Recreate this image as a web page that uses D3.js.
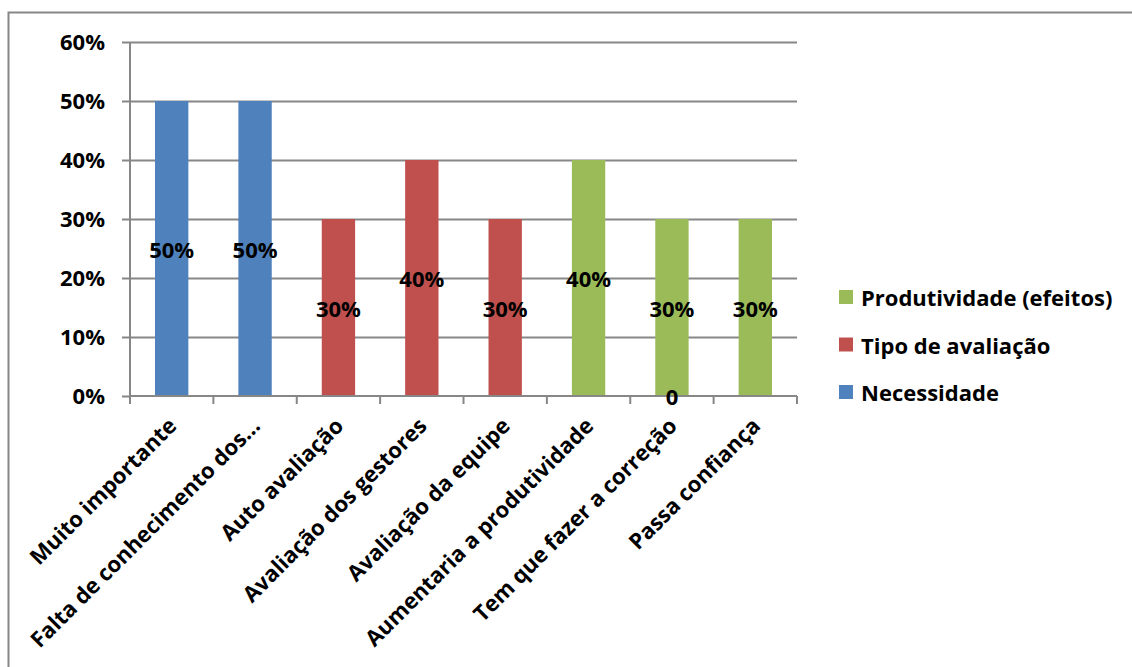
<!DOCTYPE html>
<html>
<head>
<meta charset="utf-8">
<script src="https://cdn.jsdelivr.net/npm/d3@7"></script>
<style>
  body { margin: 0; background: #fff; }
  svg text { font-family: "Open Sans", Lato, sans-serif; font-weight: bold; }
</style>
</head>
<body>
<script>
// categories and series (null = no value in that series)
const categories = ['Muito importante', 'Falta de conhecimento dos...', 'Auto avaliação',
  'Avaliação dos gestores', 'Avaliação da equipe', 'Aumentaria a produtividade',
  'Tem que fazer a correção', 'Passa confiança'];
const necessidade   = [0.5, 0.5, null, null, null, null, null, null];
const tipoAvaliacao = [null, null, 0.3, 0.4, 0.3, null, 0, null];
const produtividade = [null, null, null, null, null, 0.4, 0.3, 0.3];
const seriesNames = ['Necessidade', 'Tipo de avaliação', 'Produtividade (efeitos)'];
const colors = ['#4F81BD', '#C0504D', '#9BBB59'];
const yTicks = [0, 0.1, 0.2, 0.3, 0.4, 0.5, 0.6];

const width = 1132, height = 667;
const margin = {top: 42, left: 130, right: 335, bottom: 271};
const plotW = width - margin.left - margin.right;
const plotH = height - margin.top - margin.bottom;
const fs = 22, fsCat = 22;

const rows = categories.map((c, i) => ({cat: c, s0: necessidade[i], s1: tipoAvaliacao[i], s2: produtividade[i]}));
const stacked = d3.stack().keys(['s0', 's1', 's2']).value((d, k) => d[k] || 0)(rows);

const svg = d3.select('body').append('svg')
  .attr('width', width).attr('height', height);

// outer frame
svg.append('rect')
  .attr('x', 8.5).attr('y', 12.5)
  .attr('width', width + 10).attr('height', height + 10)
  .attr('fill', 'none').attr('stroke', '#878787').attr('stroke-width', 2);

const x = d3.scaleBand().domain(categories).range([0, plotW]).paddingInner(0.6).paddingOuter(0.3);
const xb = d3.scaleLinear().domain([0, categories.length]).range([0, plotW]);
const y = d3.scaleLinear().domain([0, 0.6]).range([plotH, 0]);

const g = svg.append('g').attr('transform', `translate(${margin.left},${margin.top})`);

// gridlines
g.append('g').selectAll('line').data(yTicks.slice(1)).join('line')
  .attr('x1', 0).attr('x2', plotW)
  .attr('y1', d => Math.round(y(d)) + 0.5).attr('y2', d => Math.round(y(d)) + 0.5)
  .attr('stroke', '#878787').attr('stroke-width', 2);

// bars
g.append('g').selectAll('g').data(stacked).join('g')
  .attr('fill', (d, i) => colors[i])
  .selectAll('rect').data(d => d.filter(p => p.data['s' + stacked.indexOf(d)] > 0)).join('rect')
  .attr('x', d => x(d.data.cat))
  .attr('width', x.bandwidth())
  .attr('y', d => y(d[1]))
  .attr('height', d => y(d[0]) - y(d[1]));

// y axis
const yAxis = d3.axisLeft(y).tickValues(yTicks).tickFormat(d3.format('.0%')).tickSize(8).tickPadding(17);
g.append('g').call(yAxis)
  .call(a => a.selectAll('line, path').attr('stroke', '#878787').attr('stroke-width', 2))
  .call(a => a.select('.domain').attr('d', `M0,${plotH}V0`))
  .call(a => a.selectAll('text').attr('font-size', fs).attr('fill', '#000').attr('font-family', null));

// x axis baseline and ticks at band boundaries
g.append('line').attr('x1', 0).attr('x2', plotW).attr('y1', plotH).attr('y2', plotH)
  .attr('stroke', '#878787').attr('stroke-width', 2);
g.append('g').selectAll('line').data(d3.range(categories.length + 1)).join('line')
  .attr('x1', d => xb(d)).attr('x2', d => xb(d))
  .attr('y1', plotH).attr('y2', plotH + 8)
  .attr('stroke', '#878787').attr('stroke-width', 2);

// category labels
g.append('g').selectAll('text').data(categories).join('text')
  .attr('transform', d => `translate(${x(d) + x.bandwidth() / 2},${plotH + 25}) rotate(-45)`)
  .attr('text-anchor', 'end')
  .attr('dominant-baseline', 'central')
  .attr('font-size', fsCat)
  .text(d => d);

// data labels
const labels = [];
stacked.forEach((s, k) => s.forEach(p => {
  const v = p.data['s' + k];
  if (v !== null && v !== undefined) labels.push({cat: p.data.cat, v, mid: (p[0] + p[1]) / 2});
}));
g.append('g').selectAll('text').data(labels).join('text')
  .attr('x', d => x(d.cat) + x.bandwidth() / 2)
  .attr('y', d => y(d.mid))
  .attr('text-anchor', 'middle')
  .attr('dominant-baseline', 'central')
  .attr('font-size', fs)
  .text(d => d.v === 0 ? '0' : d3.format('.0%')(d.v));

// legend
const legendOrder = [2, 1, 0];
const legend = svg.append('g').selectAll('g').data(legendOrder).join('g')
  .attr('transform', (d, i) => `translate(839,${297 + i * 47.5})`);
legend.append('rect').attr('x', 0).attr('y', -7).attr('width', 14).attr('height', 14)
  .attr('fill', d => colors[d]);
legend.append('text').attr('x', 22).attr('y', 0)
  .attr('dominant-baseline', 'central').attr('font-size', fs)
  .text(d => seriesNames[d]);
</script>
</body>
</html>
